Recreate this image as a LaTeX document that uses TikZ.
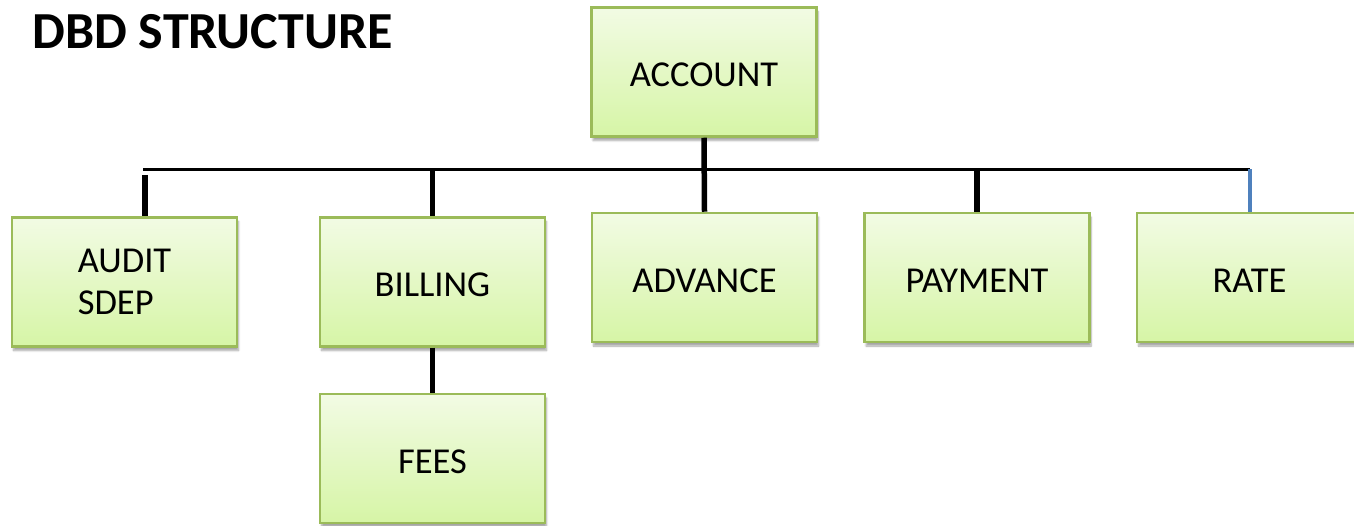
\documentclass[tikz,border=0pt]{standalone}
\usepackage{fontspec}
\setmainfont{Carlito}
\usetikzlibrary{shadows.blur}
\definecolor{boxtop}{HTML}{F2FBE4}
\definecolor{boxbot}{HTML}{D6F5A6}
\definecolor{boxline}{HTML}{9BBB59}
\definecolor{bluestub}{HTML}{4F81BD}
\tikzset{
  box/.style={draw=boxline, line width=2.5pt, rectangle, top color=boxtop, bottom color=boxbot,
    minimum width=225pt, minimum height=129pt, inner sep=0pt, align=left,
    font=\fontsize{36.5}{42}\selectfont,
    blur shadow={shadow xshift=1.5pt, shadow yshift=-4pt, shadow blur steps=6, shadow opacity=35}},
  bus/.style={draw=black, line width=3pt},
  stub/.style={draw=black, line width=5.5pt},
  bstub/.style={draw=bluestub, line width=4.5pt}
}
\newcommand{\lowtxt}[1]{\raisebox{-3pt}[\height][\depth]{#1}}
\begin{document}
\begin{tikzpicture}[x=1pt,y=-1pt]
\useasboundingbox (0,0) rectangle (1354,526);
\node[anchor=west, font=\fontsize{52}{58}\selectfont\bfseries] (title) at (29,32) {DBD STRUCTURE};
\node[box] (account) at (704,72) {\lowtxt{ACCOUNT}};
\node[box] (audit) at (124.5,282) {AUDIT\\SDEP};
\node[box] (billing) at (432.5,282) {\lowtxt{BILLING}};
\node[box] (fees) at (432.5,458.5) {\lowtxt{FEES}};
\node[box] (advance) at (704.5,277.5) {\lowtxt{ADVANCE}};
\node[box] (payment) at (977,277.5) {\lowtxt{PAYMENT}};
\node[box] (rate) at (1249.5,277.5) {\lowtxt{RATE}};
\coordinate (busL) at (143,169.5);
\coordinate (busR) at (1250,169.5);
\coordinate (auditTop) at (145,175);
\draw[bus] (busL) -- (busR);
\draw[stub] (account.south) -- (advance.north);
\draw[stub] (auditTop) -- (auditTop |- audit.north);
\draw[stub] (billing.north |- busL) -- (billing.north);
\draw[stub] (payment.north |- busL) -- (payment.north);
\draw[bstub] (busR) -- (busR |- rate.north);
\draw[stub] (billing.south) -- (fees.north);
\end{tikzpicture}
\end{document}
